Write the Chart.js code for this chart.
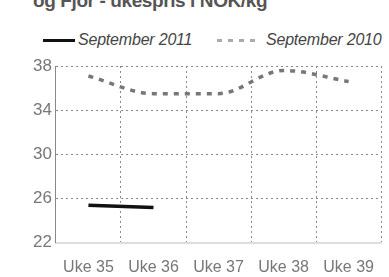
<!DOCTYPE html>
<html>
<head>
<meta charset="utf-8">
<script src="https://cdn.jsdelivr.net/npm/chart.js@4.4.0/dist/chart.umd.min.js"></script>
<style>
  html, body { margin: 0; padding: 0; background: #fff; overflow: hidden; }
  #wrap { position: relative; width: 389px; height: 277px; }
  #title {
    position: absolute; left: 33px; top: -10px; line-height: 20px;
    font: bold 19px "Liberation Sans", sans-serif;
    color: #555; white-space: nowrap; letter-spacing: -0.4px;
  }
  .leg {
    position: absolute; top: 31px; height: 18px; display: flex; align-items: center;
    font: italic 16px "Liberation Sans", sans-serif; color: #444; white-space: nowrap;
    letter-spacing: -0.2px;
  }
  .leg .mark { display: inline-block; width: 32px; height: 3px; margin-right: 3px; }
  #leg1 { left: 43px; }
  #leg1 .mark { background: #111; }
  #leg2 { left: 217px; }
  #leg2 .mark {
    width: 38px; margin-right: 11px;
    background: repeating-linear-gradient(to right, #aaa 0 5px, transparent 5px 11px);
  }
  canvas { position: absolute; left: 0; top: 0; }
</style>
</head>
<body>
<div id="wrap">
  <div id="title">og Fjor - ukespris i NOK/kg</div>
  <div class="leg" id="leg1"><span class="mark"></span>September 2011</div>
  <div class="leg" id="leg2"><span class="mark"></span>September 2010</div>
  <canvas id="priceChart" width="389" height="277"></canvas>
</div>
<script>
// Dati
const weeks = ["Uke 35", "Uke 36", "Uke 37", "Uke 38", "Uke 39"];
const sept2011 = [25.4, 25.2, null, null, null];
const sept2010 = [37.1, 35.5, 35.5, 37.6, 36.6];
const yTicks = [22, 26, 30, 34, 38];

const FONT = "'Liberation Sans', sans-serif";

function initChart() {
  const ctx = document.getElementById("priceChart").getContext("2d");

  new Chart(ctx, {
    type: "line",
    data: {
      labels: weeks,
      datasets: [
        {
          label: "September 2011",
          data: sept2011,
          borderColor: "#111",
          borderWidth: 3.5,
          pointRadius: 0,
          tension: 0,
        },
        {
          label: "September 2010",
          data: sept2010,
          borderColor: "#777",
          borderWidth: 3.5,
          borderDash: [5, 6],
          pointRadius: 0,
          cubicInterpolationMode: "monotone",
        },
      ],
    },
    options: {
      responsive: false,
      animation: false,
      layout: { padding: { top: 66, right: -5, left: 29, bottom: -15 } },
      plugins: {
        tooltip: { enabled: false },
        legend: { display: false },
      },
      scales: {
        x: {
          offset: true,
          grid: { offset: true, color: "#888", lineWidth: 1, drawTicks: false },
          border: { display: true, color: "#ddd", width: 2, dash: [2, 3] },
          ticks: { color: "#777", padding: 15, font: { family: FONT, size: 16 } },
        },
        y: {
          min: 22,
          max: 38,
          afterBuildTicks: (axis) => { axis.ticks = yTicks.map((v) => ({ value: v })); },
          grid: {
            color: (c) => (c.tick && c.tick.value === 22 ? "rgba(0,0,0,0)" : "#888"),
            lineWidth: 1,
            drawTicks: false,
          },
          border: { display: true, color: "#888", width: 1, dash: [2, 3] },
          ticks: { color: "#777", padding: 4, font: { family: FONT, size: 17 } },
        },
      },
    },
  });
}

document.addEventListener("DOMContentLoaded", initChart);
</script>
</body>
</html>
